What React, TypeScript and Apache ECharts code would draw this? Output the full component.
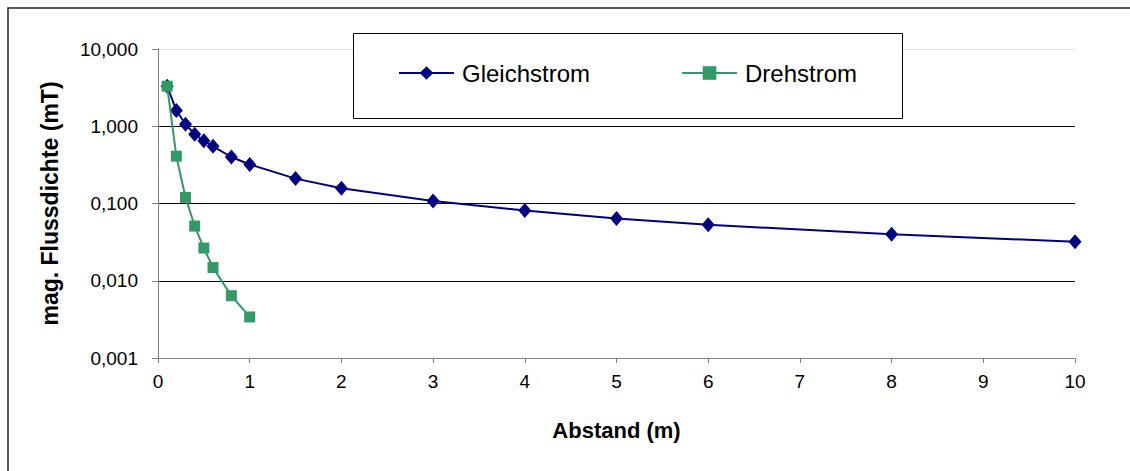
import React, { useEffect, useRef } from "react";
import * as echarts from "echarts";

const gleichX = [0.1, 0.2, 0.3, 0.4, 0.5, 0.6, 0.8, 1, 1.5, 2, 3, 4, 5, 6, 8, 10];
const gleichY = [3.3, 1.6, 1.06, 0.79, 0.65, 0.55, 0.4, 0.32, 0.21, 0.158, 0.108, 0.081, 0.064, 0.053, 0.04, 0.032];

const drehX = [0.1, 0.2, 0.3, 0.4, 0.5, 0.6, 0.8, 1];
const drehY = [3.3, 0.41, 0.12, 0.051, 0.0265, 0.0148, 0.0064, 0.0034];

const seriesNames = ["Gleichstrom", "Drehstrom"];
const xTitle = "Abstand (m)";
const yTitle = "mag. Flussdichte (mT)";

const font = "'Liberation Sans', Arial, sans-serif";

export default function App() {
  const ref = useRef<HTMLDivElement>(null);
  useEffect(() => {
    document.body.style.margin = "0";
    const chart = echarts.init(ref.current!, null, { renderer: "svg" });
    chart.setOption({
      animation: false,
      backgroundColor: "#ffffff",
      grid: { left: 158, right: 55, top: 49, bottom: 113 },
      graphic: [
        {
          type: "rect",
          shape: { x: 8, y: 8, width: 1200, height: 600 },
          style: { fill: "none", stroke: "#222", lineWidth: 1.5 },
          silent: true,
        },
        {
          type: "rect",
          shape: { x: 353.5, y: 33.5, width: 549, height: 85 },
          style: { fill: "#fff", stroke: "#000", lineWidth: 1 },
          z: 5,
          silent: true,
        },
      ],
      legend: {
        left: 398,
        top: 61,
        padding: 0,
        itemWidth: 55,
        itemHeight: 17,
        itemGap: 91,
        z: 10,
        textStyle: { fontFamily: font, fontSize: 24, color: "#000", padding: [0, 0, 0, 3] },
        data: seriesNames,
      },
      xAxis: {
        type: "value",
        min: 0,
        max: 10,
        interval: 1,
        name: xTitle,
        nameLocation: "middle",
        nameGap: 61,
        nameTextStyle: { fontFamily: font, fontSize: 22, fontWeight: "bold", color: "#000" },
        axisLine: { show: true, lineStyle: { color: "#808080", width: 1 } },
        axisTick: { show: true, inside: false, length: 5, lineStyle: { color: "#808080" } },
        axisLabel: { fontFamily: font, fontSize: 19, color: "#000", margin: 14 },
        splitLine: { show: false },
      },
      yAxis: {
        type: "log",
        logBase: 10,
        min: 0.001,
        max: 10,
        name: yTitle,
        nameLocation: "middle",
        nameGap: 97,
        nameRotate: 90,
        nameTextStyle: { fontFamily: font, fontSize: 23, fontWeight: "bold", color: "#000" },
        axisLine: { show: true, lineStyle: { color: "#808080", width: 1 } },
        axisTick: { show: true, inside: false, length: 6, lineStyle: { color: "#808080" } },
        axisLabel: {
          fontFamily: font,
          fontSize: 19,
          color: "#000",
          margin: 20,
          formatter: (v: number) => v.toFixed(3).replace(".", ","),
        },
        splitLine: {
          show: true,
          lineStyle: { color: ["#000", "#000", "#000", "#000", "#e0e0e0"], width: 1 },
        },
      },
      series: [
        {
          name: seriesNames[0],
          type: "line",
          data: gleichX.map((x, i) => [x, gleichY[i]]),
          symbol: "diamond",
          symbolSize: [13, 15],
          color: "#000080",
          itemStyle: { color: "#000080" },
          lineStyle: { color: "#000080", width: 2 },
          z: 3,
        },
        {
          name: seriesNames[1],
          type: "line",
          data: drehX.map((x, i) => [x, drehY[i]]),
          symbol: "rect",
          symbolSize: 11,
          color: "#339966",
          itemStyle: { color: "#339966" },
          lineStyle: { color: "#339966", width: 2 },
          z: 4,
        },
      ],
    });
    return () => chart.dispose();
  }, []);
  return (
    <div
      ref={ref}
      style={{ position: "absolute", left: 0, top: 0, width: 1130, height: 471 }}
    />
  );
}
